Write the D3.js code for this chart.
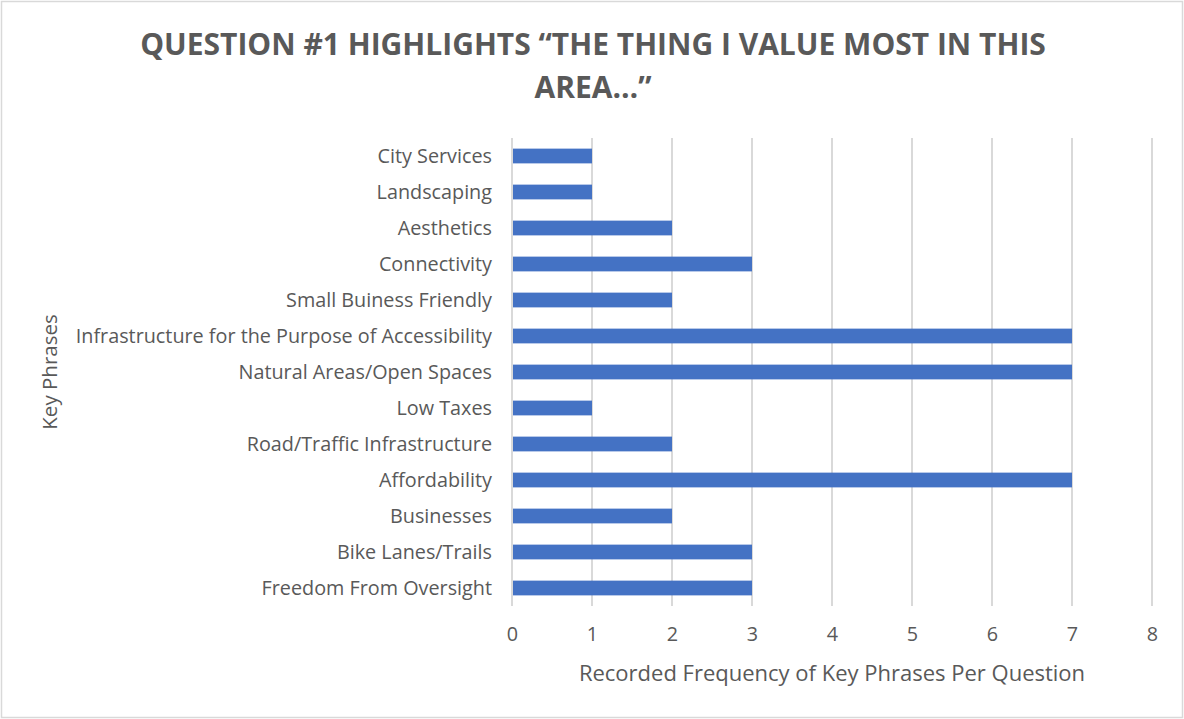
<!DOCTYPE html>
<html>
<head>
<meta charset="utf-8">
<script src="https://cdn.jsdelivr.net/npm/d3@7"></script>
<style>
  html, body { margin: 0; padding: 0; background: #fff; }
  svg { display: block; }
  text { font-family: "Open Sans", "Noto Sans", sans-serif; fill: #595959; }
</style>
</head>
<body>
<svg id="chart" width="1184" height="719"></svg>
<script>
// Key phrases, listed top to bottom as they appear on the chart
const categories = [
  "City Services",
  "Landscaping",
  "Aesthetics",
  "Connectivity",
  "Small Buiness Friendly",
  "Infrastructure for the Purpose of Accessibility",
  "Natural Areas/Open Spaces",
  "Low Taxes",
  "Road/Traffic Infrastructure",
  "Affordability",
  "Businesses",
  "Bike Lanes/Trails",
  "Freedom From Oversight"
];
// Recorded frequency for each phrase
const frequencies = [1, 1, 2, 3, 2, 7, 7, 1, 2, 7, 2, 3, 3];
// Value axis ticks
const xTicks = [0, 1, 2, 3, 4, 5, 6, 7, 8];

const titleLines = ["QUESTION #1 HIGHLIGHTS \u201CTHE THING I VALUE MOST IN THIS", "AREA\u2026\u201D"];
const xTitle = "Recorded Frequency of Key Phrases Per Question";
const yTitle = "Key Phrases";

const W = 1184, H = 719;
const plot = { left: 512, right: 1152, top: 138, bottom: 606 };

const svg = d3.select("#chart");

// Outer chart frame
svg.append("rect")
  .attr("x", 1.5).attr("y", 1.5)
  .attr("width", W - 3).attr("height", H - 3)
  .attr("fill", "#fff").attr("stroke", "#d9d9d9").attr("stroke-width", 1.5);

const x = d3.scaleLinear().domain([0, 8]).range([plot.left, plot.right]);
const y = d3.scaleBand().domain(categories).range([plot.top, plot.bottom]).paddingInner(0.59).paddingOuter(0.295);

// Vertical gridlines
svg.append("g")
  .selectAll("line")
  .data(xTicks)
  .join("line")
  .attr("x1", d => x(d)).attr("x2", d => x(d))
  .attr("y1", plot.top).attr("y2", plot.bottom)
  .attr("stroke", "#d9d9d9").attr("stroke-width", 2);

// Bars
svg.append("g")
  .selectAll("rect")
  .data(categories)
  .join("rect")
  .attr("x", x(0) + 1)
  .attr("y", d => y(d))
  .attr("width", (d, i) => x(frequencies[i]) - x(0) - 1)
  .attr("height", y.bandwidth())
  .attr("fill", "#4472c4");

// Category axis (labels only)
const yAxis = d3.axisLeft(y).tickSize(0).tickPadding(20);
const gy = svg.append("g").attr("transform", `translate(${plot.left},1)`).call(yAxis);
gy.select(".domain").remove();
gy.selectAll("text")
  .attr("font-size", 19.8)
  .style("font-family", '"Open Sans", sans-serif')
  .attr("fill", "#595959");

// Value axis (labels only)
const xAxis = d3.axisBottom(x).tickValues(xTicks).tickSize(0).tickPadding(21).tickFormat(d3.format("d"));
const gx = svg.append("g").attr("transform", `translate(0,${plot.bottom})`).call(xAxis);
gx.select(".domain").remove();
gx.selectAll("text")
  .attr("font-size", 19.8)
  .style("font-family", '"Open Sans", sans-serif')
  .attr("fill", "#595959");

// Chart title
svg.append("g")
  .selectAll("text")
  .data(titleLines)
  .join("text")
  .attr("x", 593)
  .attr("y", (d, i) => 55 + i * 43)
  .attr("text-anchor", "middle")
  .attr("font-size", 30)
  .attr("font-weight", "bold")
  .text(d => d);

// Axis titles
svg.append("text")
  .attr("x", (plot.left + plot.right) / 2)
  .attr("y", 681)
  .attr("text-anchor", "middle")
  .attr("font-size", 22)
  .text(xTitle);

svg.append("text")
  .attr("transform", `translate(57,${(plot.top + plot.bottom) / 2}) rotate(-90)`)
  .attr("text-anchor", "middle")
  .attr("font-size", 20.5)
  .text(yTitle);
</script>
</body>
</html>
